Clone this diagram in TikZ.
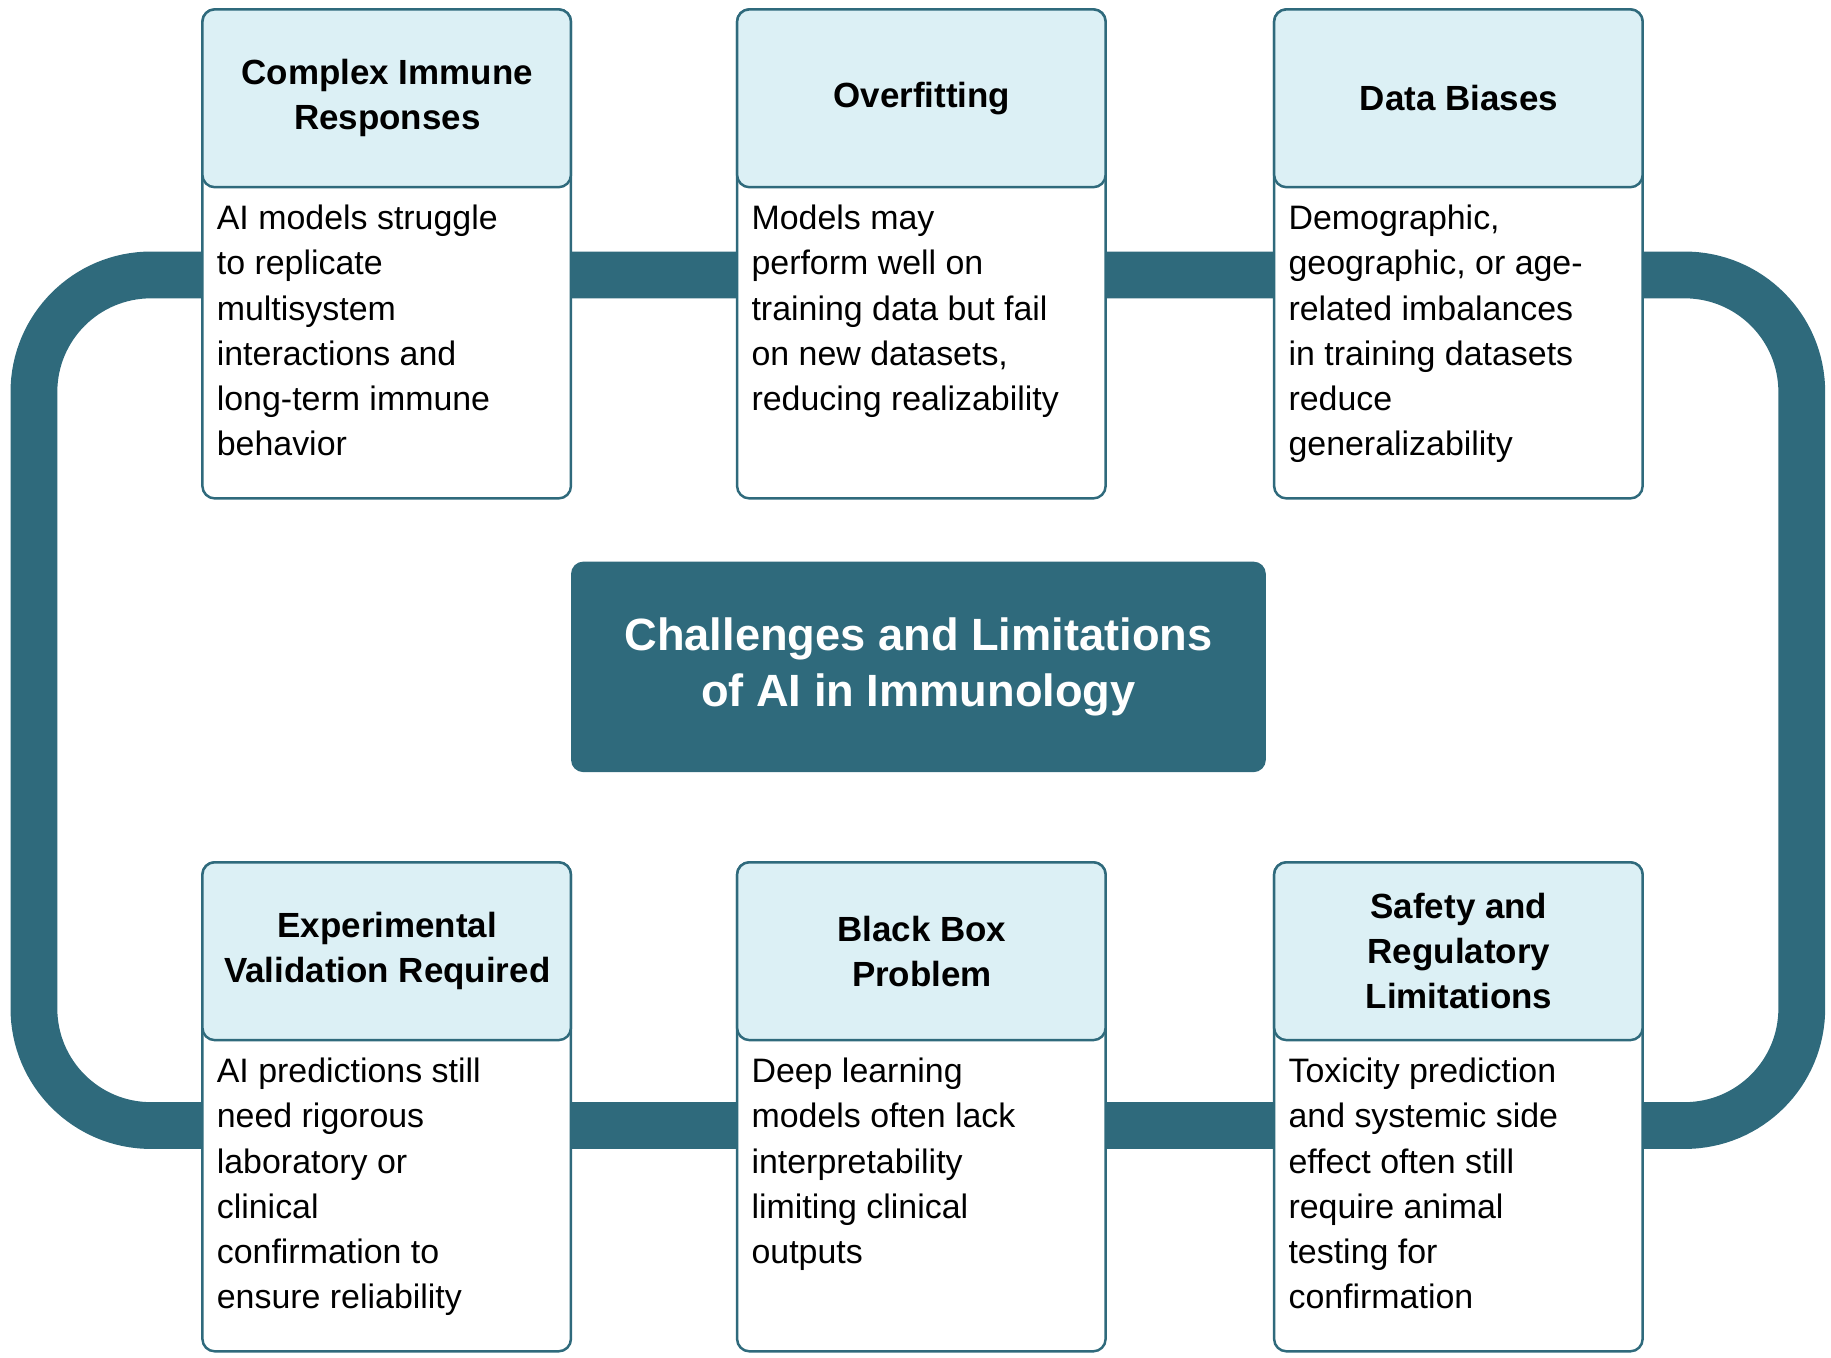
\documentclass[tikz,border=0pt]{standalone}
\usepackage{fontspec}
\setmainfont{Liberation Sans}
\definecolor{teal}{HTML}{2F6A7C}
\definecolor{hdr}{HTML}{DCF0F5}
\begin{document}
\begin{tikzpicture}[x=0.02cm,y=-0.02cm,
 card/.style={draw=teal,line width=1.2pt,rounded corners=6pt,fill=white},
 head/.style={draw=teal,line width=1.2pt,rounded corners=6pt,fill=hdr},
 ht/.style={font=\fontsize{17}{22}\selectfont\bfseries,align=center,text=black},
 bt/.style={font=\fontsize{16.5}{22}\selectfont,align=left,anchor=north west,inner sep=0pt,text=black}]
\useasboundingbox (0,0) rectangle (1565,1160);
% loop
\coordinate (lt) at (29,235); \coordinate (rb) at (1540,962);
\draw[teal,line width=0.8cm,rounded corners=2cm] (lt) rectangle (rb);
% center
\node[fill=teal,rounded corners=6pt,minimum width=11.88cm,minimum height=3.6cm,
  text=white,font=\fontsize{22}{27}\selectfont\bfseries,align=center] (c) at (785,570)
  {Challenges and Limitations\\of AI in Immunology};
% cards
\foreach \x/\y/\n/\h/\b in {
173/8/a/{Complex Immune\\Responses}/{AI models struggle\\to replicate\\multisystem\\interactions and\\long-term immune\\behavior},
630/8/b/{Overfitting}/{Models may\\perform well on\\training data but fail\\on new datasets,\\reducing realizability},
1089/8/d/{Data Biases}/{Demographic,\\geographic, or age-\\related imbalances\\in training datasets\\reduce\\generalizability},
173/737/e/{Experimental\\Validation Required}/{AI predictions still\\need rigorous\\laboratory or\\clinical\\confirmation to\\ensure reliability},
630/737/f/{Black Box\\Problem}/{Deep learning\\models often lack\\interpretability\\limiting clinical\\outputs},
1089/737/g/{Safety and\\Regulatory\\Limitations}/{Toxicity prediction\\and systemic side\\effect often still\\require animal\\testing for\\confirmation}}{
 \draw[card] (\x,\y) rectangle ++(315,418);
 \draw[head] (\x,\y) rectangle ++(315,152);
 \node[ht] (\n h) at (\x+158,\y+76) {\h};
 \node[bt] (\n b) at (\x+12,\y+167) {\b};
}
\end{tikzpicture}
\end{document}
